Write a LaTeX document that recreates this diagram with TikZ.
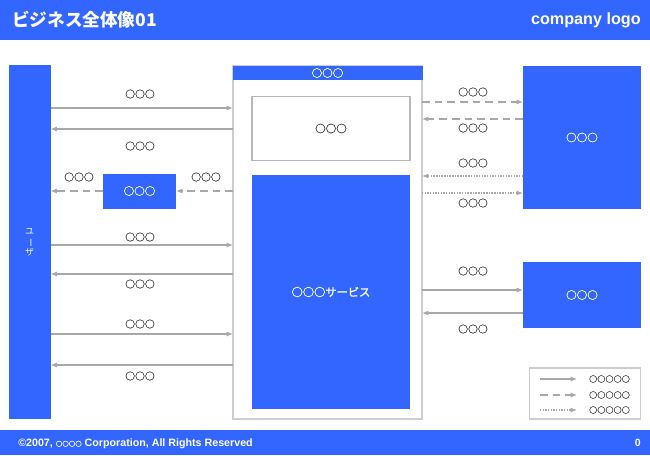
\documentclass[tikz,border=0pt]{standalone}
\usepackage{fontspec}
\setmainfont{Liberation Sans}
\newfontfamily\jp{Noto Sans CJK JP}
\newfontfamily\jpo[FakeBold=1.3]{Noto Sans CJK JP}
\usepackage{graphicx}
\usetikzlibrary{arrows.meta}

\definecolor{bizblue}{RGB}{51,102,255}
\definecolor{flowgray}{RGB}{168,168,168}
\definecolor{framegray}{RGB}{205,205,205}
\definecolor{labelgray}{RGB}{68,68,68}
\newdimen\pxu \pxu=0.025cm

\tikzset{
  bluebox/.style={fill=bizblue, draw=none, text=white, inner sep=0pt, outer sep=0pt,
    font=\jpo\fontsize{7.5}{8}\selectfont},
  framebox/.style={fill=white, draw=framegray, line width=0.8pt, inner sep=0pt, outer sep=0pt,
    text=labelgray, font=\jpo\fontsize{7.5}{8}\selectfont},
  lbl/.style={text=labelgray, inner sep=0pt, font=\jpo\fontsize{7}{8}\selectfont},
  flow/.style={draw=flowgray, line width=1.2pt, -{Latex[length=4.5pt,width=3.6pt]}},
  dashflow/.style={flow, dash pattern=on 5.5pt off 3.5pt},
  dotflow/.style={flow, line width=1.1pt, dash pattern=on 1pt off 0.9pt},
}

\begin{document}
\begin{tikzpicture}[x=0.025cm, y=-0.025cm]
\useasboundingbox (0,0) rectangle (650,455);
% header and footer
\fill[bizblue] (0,0) rectangle (650,40);
\fill[bizblue] (0,430) rectangle (650,455);
\node[anchor=west, text=white, inner sep=0pt, font=\jp\bfseries\fontsize{12.5}{14}\selectfont] (title) at (12,20) {ビジネス全体像01};
\node[anchor=east, text=white, inner sep=0pt, font=\bfseries\fontsize{11.5}{13}\selectfont] (logo) at (641,20) {company logo};
\node[anchor=west, text=white, inner sep=0pt, font=\bfseries\fontsize{7.6}{8}\selectfont] (copy) at (18,443.5)
  {©2007, {\jpo\fontsize{4.6}{8}\selectfont ○○○○} Corporation, All Rights Reserved};
\node[anchor=east, text=white, inner sep=0pt, font=\bfseries\fontsize{7.5}{8}\selectfont] (page) at (641,443) {0};

% boxes
\node[bluebox, minimum width=42\pxu, minimum height=354\pxu, align=center,
  font=\jp\fontsize{6.3}{7.4}\selectfont] (user) at (29.5,242) {ユ\\\rotatebox[origin=c]{-90}{ー}\\ザ};
\node[framebox, minimum width=189\pxu, minimum height=353\pxu] (outer) at (327.5,242.5) {};
\node[bluebox, minimum width=190\pxu, minimum height=14\pxu] (outerhead) at (327.5,73) {○○○};
\node[framebox, draw=framegray!90!black, minimum width=158\pxu, minimum height=64\pxu] (db) at (331,128.5) {○○○};
\node[bluebox, minimum width=158\pxu, minimum height=234\pxu, font=\jpo\fontsize{8}{9}\selectfont] (svc) at (331,292) {○○○サービス};
\node[bluebox, minimum width=73\pxu, minimum height=35\pxu] (mid) at (139.5,191) {○○○};
\node[bluebox, minimum width=118\pxu, minimum height=143\pxu] (ext1) at (582,137.5) {○○○};
\node[bluebox, minimum width=118\pxu, minimum height=66\pxu] (ext2) at (582,295) {○○○};
\node[framebox, minimum width=111\pxu, minimum height=51\pxu] (legend) at (585,393.5) {};

% user <-> service
\foreach \src/\dst/\yy/\ly [count=\i] in {user.east/outer.west/108/94, outer.west/user.east/129/146,
  user.east/outer.west/245/237, outer.west/user.east/274/284,
  user.east/outer.west/334/324, outer.west/user.east/365/376}{
  \draw[flow] (\src |- 0,\yy) -- (\dst |- 0,\yy);
  \node[lbl] (ul\i) at (140,\ly) {○○○};
}
\draw[dashflow] (outer.west |- mid) -- (mid.east);
\draw[dashflow] (mid.west) -- (user.east |- mid);
\node[lbl] (ml1) at (79,177) {○○○};
\node[lbl] (ml2) at (206,177) {○○○};

% service <-> external
\draw[dashflow] (outer.east |- 0,102) -- (ext1.west |- 0,102);
\draw[dashflow] (ext1.west |- 0,119) -- (outer.east |- 0,119);
\draw[dotflow] (ext1.west |- 0,176) -- (outer.east |- 0,176);
\draw[dotflow] (outer.east |- 0,193) -- (ext1.west |- 0,193);
\draw[flow] (outer.east |- 0,290) -- (ext2.west |- 0,290);
\draw[flow] (ext2.west |- 0,313) -- (outer.east |- 0,313);
\foreach \ly [count=\i] in {92,128,163,203,271,329}
  \node[lbl] (rl\i) at (473,\ly) {○○○};

% legend
\foreach \st/\yy [count=\i] in {flow/379,dashflow/395,dotflow/410}{
  \coordinate (lga\i) at (540,\yy);
  \node[lbl, font=\jpo\fontsize{5.8}{6}\selectfont] (lgt\i) at (609.5,\yy) {○○○○○};
  \draw[\st] (lga\i) -- ++(37,0);
}
\end{tikzpicture}
\end{document}
